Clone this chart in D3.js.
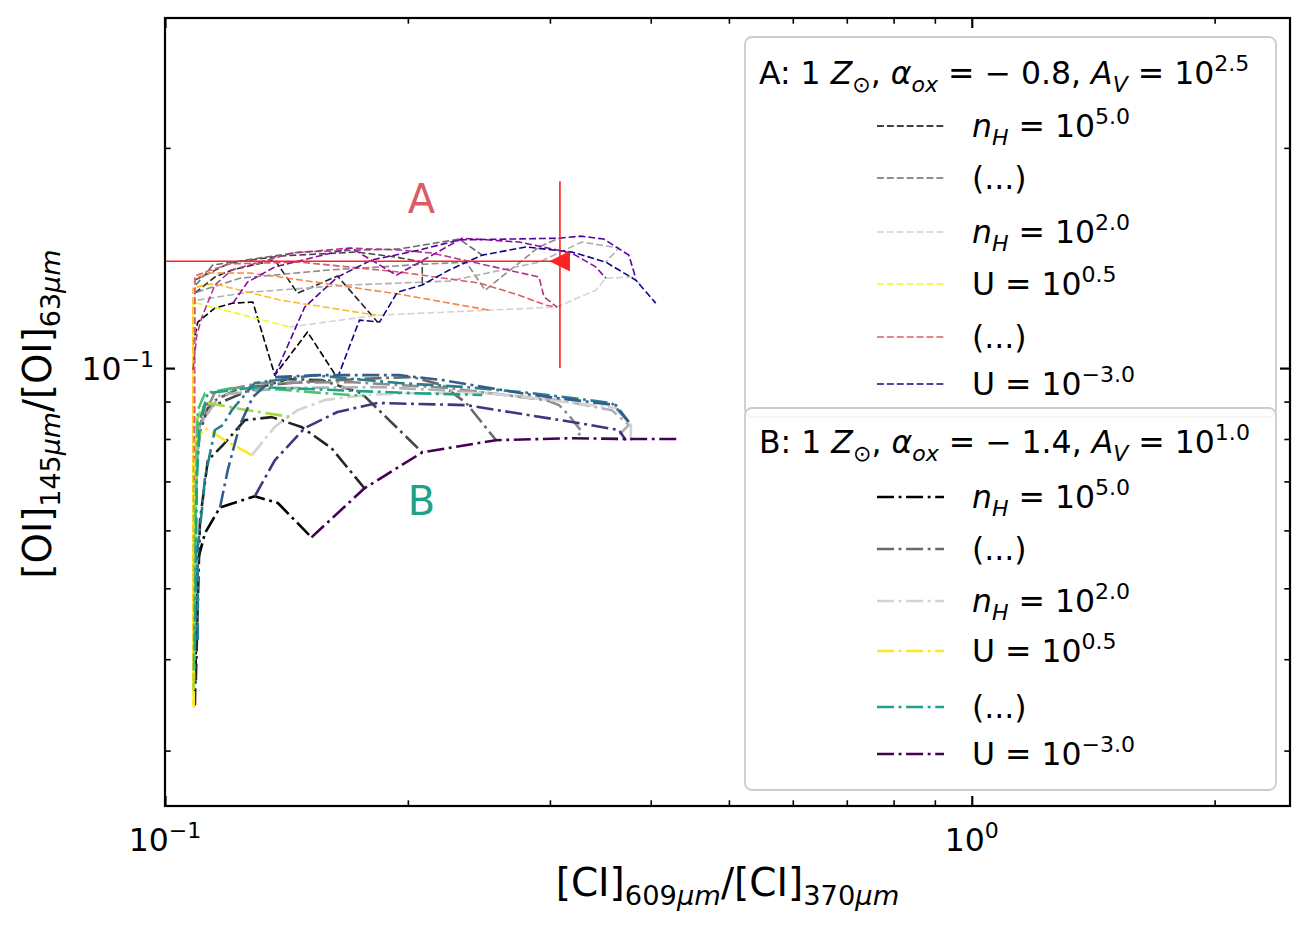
<!DOCTYPE html>
<html><head><meta charset="utf-8">
<script src="https://cdn.jsdelivr.net/npm/d3@7"></script>
<style>
body{margin:0;background:#fff}
svg{display:block}
text{font-family:"DejaVu Sans",sans-serif;white-space:pre}
</style>
</head><body>
<svg id="chart" width="1312" height="930"></svg>
<script>
// ---------------- data ----------------
const xDomain = [0.1, 2.48];
const yDomain = [0.0252, 0.301];
const xMajorTicks = [0.1, 1];
const xMinorTicks = [0.2,0.3,0.4,0.5,0.6,0.7,0.8,0.9,2];
const yMajorTicks = [0.1];
const yMinorTicks = [0.03,0.04,0.05,0.06,0.07,0.08,0.09,0.2];
const xTickLabels = [{v:0.1, base:"10", exp:"−1"}, {v:1, base:"10", exp:"0"}];
const yTickLabels = [{v:0.1, base:"10", exp:"−1"}];

const nHValues = ["5.0","4.5","4.0","3.5","3.0","2.5","2.0"];
const UValues  = ["0.5","0.0","−0.5","−1.0","−1.5","−2.0","−2.5","−3.0"];
const greyColors    = ["#000000","#232323","#464646","#696969","#8c8c8c","#b0b0b0","#d3d3d3"];
const plasmaColors  = ["#f0f921","#febd2a","#f48849","#db5c68","#b83289","#8b0aa5","#5302a3","#0d0887"];
const viridisColors = ["#fde725","#a0da39","#4ac16d","#1fa187","#277f8e","#365c8d","#46327e","#440154"];

// Model A: lines of constant n_H (one per nHValues)
const A_nH_x = [
  [0.1083,0.1098,0.1153,0.1214,0.1285,0.1368,0.1502,0.1636],
  [0.1089,0.1153,0.1210,0.1368,0.1460,0.1636,0.1834],
  [0.1089,0.1203,0.1388,0.1727,0.1936,0.2084,0.2084],
  [0.1092,0.1146,0.1469,0.1952,0.2316,0.2473],
  [0.1095,0.1238,0.1600,0.2127,0.2362,0.2493,0.2908,0.3079],
  [0.1098,0.1274,0.1693,0.2251,0.2908,0.3287,0.3652,0.3519],
  [0.1427,0.1829,0.2522,0.3061,0.3420,0.3519,0.3790,0.3899]
];
const A_nH_y = [
  [0.1075,0.1156,0.1208,0.1227,0.1231,0.0978,0.1120,0.0969],
  [0.1266,0.1332,0.1362,0.1405,0.1266,0.1336,0.1156],
  [0.1319,0.1392,0.1423,0.1441,0.1418,0.1396,0.1299],
  [0.1299,0.1383,0.1441,0.1455,0.1501,0.1427],
  [0.1270,0.1327,0.1362,0.1388,0.1396,0.1278,0.1464,0.1505],
  [0.1239,0.1270,0.1299,0.1315,0.1396,0.1487,0.1459,0.1396],
  [0.1138,0.1181,0.1200,0.1212,0.1278,0.1327,0.1332,0.1299]
];
// Model A: lines of constant U (one per UValues)
const A_U_x = [
  [0.1083,0.1083,0.1427],
  [0.1083,0.1083,0.1121,0.1153,0.1388,0.1829],
  [0.1086,0.1089,0.1137,0.1274,0.1388,0.1952,0.2522],
  [0.1086,0.1089,0.1130,0.1203,0.1469,0.1952,0.2451,0.2747,0.2967,0.3061],
  [0.1083,0.1095,0.1111,0.1153,0.1210,0.1439,0.1693,0.1952,0.2145,0.2908,0.2950,0.3061],
  [0.1214,0.1266,0.1368,0.1702,0.1936,0.2336,0.2747,0.3194,0.3420,0.3519],
  [0.1368,0.1490,0.1636,0.1803,0.2067,0.2316,0.3079,0.3277,0.3499,0.3758,0.3833],
  [0.1636,0.1742,0.1845,0.1941,0.2084,0.2251,0.2473,0.2802,0.3194,0.3519,0.3833,0.4058]
];
const A_U_y = [
  [0.0346,0.1231,0.1138],
  [0.0363,0.1286,0.1299,0.1303,0.1239,0.1181],
  [0.0374,0.1327,0.1349,0.1349,0.1332,0.1262,0.1200],
  [0.0386,0.1336,0.1357,0.1388,0.1396,0.1353,0.1307,0.1258,0.1219,0.1212],
  [0.0994,0.1109,0.1174,0.1299,0.1362,0.1436,0.1459,0.1450,0.1436,0.1332,0.1251,0.1212],
  [0.1227,0.1311,0.1375,0.1459,0.1340,0.1505,0.1487,0.1436,0.1375,0.1327],
  [0.0978,0.1212,0.1332,0.1405,0.1450,0.1497,0.1505,0.1515,0.1501,0.1427,0.1327],
  [0.0969,0.1163,0.1156,0.1270,0.1299,0.1362,0.1427,0.1464,0.1441,0.1396,0.1319,0.1227]
];
// Model B: lines of constant n_H
const B_nH_x = [
  [0.1089,0.1092,0.1095,0.1098,0.1121,0.1170,0.1292,0.1380,0.1519],
  [0.1092,0.1105,0.1130,0.1180,0.1256,0.1356,0.1476,0.1609,0.1767],
  [0.1089,0.1092,0.1105,0.1130,0.1256,0.1419,0.1563,0.1752,0.2084],
  [0.1089,0.1095,0.1121,0.1238,0.1469,0.1845,0.2026,0.2207,0.2362,0.2572],
  [0.1089,0.1098,0.1153,0.1310,0.1693,0.2251,0.2967,0.3079,0.3167,0.3287,0.3231],
  [0.1089,0.1105,0.1170,0.1388,0.1845,0.2451,0.3079,0.3580,0.3758,0.3652,0.3621],
  [0.1281,0.1368,0.1460,0.1576,0.1767,0.2037,0.2522,0.2851,0.3621,0.3780,0.3780,0.3652]
];
const B_nH_y = [
  [0.0346,0.0411,0.0482,0.0546,0.0595,0.0645,0.0668,0.0654,0.0587],
  [0.0374,0.0619,0.0748,0.0785,0.0849,0.0857,0.0831,0.0777,0.0685],
  [0.0452,0.0725,0.0818,0.0882,0.0927,0.0966,0.0963,0.0924,0.0767],
  [0.0546,0.0797,0.0890,0.0939,0.0957,0.0969,0.0972,0.0948,0.0896,0.0797],
  [0.0619,0.0823,0.0927,0.0954,0.0957,0.0939,0.0904,0.0890,0.0862,0.0818,0.0805],
  [0.0660,0.0836,0.0919,0.0939,0.0942,0.0927,0.0904,0.0876,0.0836,0.0810,0.0797],
  [0.0760,0.0831,0.0876,0.0904,0.0919,0.0924,0.0924,0.0910,0.0882,0.0836,0.0797,0.0802]
];
// Model B: lines of constant U
const B_U_x = [
  [0.1086,0.1086,0.1092,0.1121,0.1186,0.1281],
  [0.1086,0.1089,0.1095,0.1111,0.1130,0.1266,0.1436],
  [0.1086,0.1092,0.1098,0.1121,0.1210,0.1368,0.1519,0.1767],
  [0.1089,0.1095,0.1105,0.1130,0.1303,0.2037,0.2473],
  [0.1098,0.1098,0.1111,0.1121,0.1153,0.1180,0.1210,0.1292,0.1532,0.1767,0.1952,0.2362,0.2851,0.3580,0.3758],
  [0.1170,0.1196,0.1238,0.1285,0.1368,0.1554,0.1952,0.2207,0.2851,0.3621,0.3758],
  [0.1292,0.1368,0.1490,0.1636,0.1834,0.2362,0.3194,0.3652,0.3726],
  [0.1519,0.1767,0.2084,0.2572,0.3194,0.3736,0.4307]
];
const B_U_y = [
  [0.0343,0.0482,0.0797,0.0828,0.0797,0.0760],
  [0.0363,0.0546,0.0849,0.0882,0.0896,0.0876,0.0857],
  [0.0386,0.0660,0.0876,0.0924,0.0939,0.0936,0.0927,0.0916],
  [0.0411,0.0703,0.0849,0.0924,0.0942,0.0924,0.0919],
  [0.0425,0.0569,0.0639,0.0709,0.0823,0.0836,0.0876,0.0954,0.0978,0.0963,0.0954,0.0942,0.0924,0.0896,0.0844],
  [0.0645,0.0725,0.0836,0.0913,0.0972,0.0978,0.0978,0.0963,0.0919,0.0890,0.0844],
  [0.0668,0.0748,0.0828,0.0871,0.0896,0.0890,0.0844,0.0823,0.0797],
  [0.0587,0.0685,0.0767,0.0797,0.0802,0.0800,0.0800]
];

// observed point (upper limit in x)
const obsX = 0.3087, obsY = 0.140;
const obsYRange = [0.100, 0.180];
const obsXLow = 0.05;

const regionLabels = [
  {text:"A", x:0.2, y:0.163, color:plasmaColors[3]},
  {text:"B", x:0.2, y:0.0629, color:viridisColors[3]}
];

// ---------------- drawing ----------------
const W = 1312, H = 930;
const P = {left:165, right:1290, top:18, bottom:806};
const svg = d3.select("#chart");
const x = d3.scaleLog().domain(xDomain).range([P.left, P.right]);
const y = d3.scaleLog().domain(yDomain).range([P.bottom, P.top]);

svg.append("rect").attr("width",W).attr("height",H).attr("fill","#fff");
svg.append("defs").append("clipPath").attr("id","clip").append("rect")
  .attr("x",P.left).attr("y",P.top).attr("width",P.right-P.left).attr("height",P.bottom-P.top);

const plot = svg.append("g").attr("clip-path","url(#clip)");
const line = d3.line().x(d=>x(d[0])).y(d=>y(d[1]));

const styleA = {w:1.6, dash:"6.9,3"};
const styleB = {w:2.6, dash:"17,4.6,2.9,4.6"};

function drawFamily(xs, ys, colors, st){
  xs.forEach((xa,i)=>{
    const pts = xa.map((v,j)=>[v, ys[i][j]]);
    plot.append("path").attr("d", line(pts)).attr("fill","none")
      .attr("stroke", colors[i]).attr("stroke-width", st.w)
      .attr("stroke-dasharray", st.dash).attr("stroke-linejoin","round");
  });
}
drawFamily(A_nH_x, A_nH_y, greyColors, styleA);
drawFamily(A_U_x, A_U_y, plasmaColors, styleA);
drawFamily(B_nH_x, B_nH_y, greyColors, styleB);
drawFamily(B_U_x, B_U_y, viridisColors, styleB);

// error bars + marker
const red = "#ff2020";
plot.append("line").attr("x1",x(obsXLow)).attr("x2",x(obsX)).attr("y1",y(obsY)).attr("y2",y(obsY))
  .attr("stroke",red).attr("stroke-width",1.6);
plot.append("line").attr("x1",x(obsX)).attr("x2",x(obsX)).attr("y1",y(obsYRange[0])).attr("y2",y(obsYRange[1]))
  .attr("stroke",red).attr("stroke-width",1.6);
const r = 9.5;
plot.append("path").attr("transform",`translate(${x(obsX)},${y(obsY)})`)
  .attr("d",`M${-r},0L${r},${-r}L${r},${r}Z`).attr("fill",red).attr("stroke",red).attr("stroke-width",1);

// math text helper
function mathText(parent, px, py, size, parts, opt={}){
  const t = parent.append("text").attr("x",px).attr("y",py).attr("font-size",size)
    .attr("text-anchor", opt.anchor||"start").attr("fill", opt.fill||"#000");
  if (opt.rotate) t.attr("transform",`rotate(${opt.rotate},${px},${py})`);
  let cur = 0;
  parts.forEach(p=>{
    if (typeof p === "string") p = {t:p};
    const shift = p.sub ? 0.24*size : (p.sup ? -0.42*size : 0);
    const ts = t.append("tspan").text(p.t).attr("dy", shift-cur);
    cur = shift;
    if (p.sub || p.sup) ts.attr("font-size", size*0.7);
    if (p.i) ts.attr("font-style","italic");
  });
  return t;
}

// region labels
regionLabels.forEach(l=>{
  svg.append("text").attr("x",x(l.x)).attr("y",y(l.y)).attr("font-size",40)
    .attr("fill",l.color).text(l.text);
});

// axes ticks (inward, all four sides)
function tickAxis(axisFn, scale, vals, len, w, tr){
  const g = svg.append("g").attr("transform",tr)
    .call(axisFn(scale).tickValues(vals).tickSize(-len).tickFormat(""));
  g.select(".domain").remove();
  g.selectAll("line").attr("stroke","#000").attr("stroke-width",w);
}
[[xMajorTicks,10,2.2],[xMinorTicks,5.7,1.6]].forEach(([v,l,w])=>{
  tickAxis(d3.axisBottom, x, v, l, w, `translate(0,${P.bottom})`);
  tickAxis(d3.axisTop, x, v, l, w, `translate(0,${P.top})`);
});
[[yMajorTicks,10,2.2],[yMinorTicks,5.7,1.6]].forEach(([v,l,w])=>{
  tickAxis(d3.axisLeft, y, v, l, w, `translate(${P.left},0)`);
  tickAxis(d3.axisRight, y, v, l, w, `translate(${P.right},0)`);
});
svg.append("rect").attr("x",P.left).attr("y",P.top).attr("width",P.right-P.left).attr("height",P.bottom-P.top)
  .attr("fill","none").attr("stroke","#000").attr("stroke-width",2.2);

// tick labels
const tickFont = 31.5;
xTickLabels.forEach(t=>{
  mathText(svg, x(t.v), 851, tickFont, [t.base,{t:t.exp,sup:1}], {anchor:"middle"});
});
yTickLabels.forEach(t=>{
  mathText(svg, 154, y(t.v)+12, tickFont, [t.base,{t:t.exp,sup:1}], {anchor:"end"});
});

// axis labels
mathText(svg, (P.left+P.right)/2, 896, 39,
  ["[CI]",{t:"609",sub:1},{t:"μm",sub:1,i:1},"/[CI]",{t:"370",sub:1},{t:"μm",sub:1,i:1}], {anchor:"middle"});
mathText(svg, 51, (P.top+P.bottom)/2 + 2, 38.5,
  ["[OI]",{t:"145",sub:1},{t:"μm",sub:1,i:1},"/[OI]",{t:"63",sub:1},{t:"μm",sub:1,i:1}], {anchor:"middle", rotate:-90});

// legends
const legFont = 31.5;
function legend(box, titleParts, titleY, entries, st){
  svg.append("rect").attr("x",box.x).attr("y",box.y).attr("width",box.w).attr("height",box.h)
    .attr("rx",7).attr("fill","#fff").attr("fill-opacity",0.8).attr("stroke","#cccccc").attr("stroke-width",1.8);
  mathText(svg, 759, titleY, legFont, titleParts);
  entries.forEach(e=>{
    svg.append("line").attr("x1",877).attr("x2",944).attr("y1",e.y).attr("y2",e.y)
      .attr("stroke",e.color).attr("stroke-width",st.w).attr("stroke-dasharray",st.dash);
    mathText(svg, 972, e.y+11, legFont, e.parts);
  });
}
const nHParts = v => [{t:"n",i:1},{t:"H",i:1,sub:1}," = 10",{t:v,sup:1}];
const UParts = v => ["U = 10",{t:v,sup:1}];
const dots = ["(...)"];
const midN = 3, midU = 3;

legend({x:745,y:37,w:531,h:380},
  ["A: 1 ",{t:"Z",i:1},{t:"⊙",sub:1},", ",{t:"α",i:1},{t:"ox",i:1,sub:1}," = − 0.8, ",{t:"A",i:1},{t:"V",i:1,sub:1}," = 10",{t:"2.5",sup:1}],
  84,
  [
    {y:126, color:greyColors[0], parts:nHParts(nHValues[0])},
    {y:178, color:greyColors[midN], parts:dots},
    {y:232, color:greyColors[6], parts:nHParts(nHValues[6])},
    {y:284, color:plasmaColors[0], parts:UParts(UValues[0])},
    {y:337, color:plasmaColors[midU], parts:dots},
    {y:384, color:plasmaColors[7], parts:UParts(UValues[7])}
  ], styleA);

legend({x:745,y:408,w:531,h:382},
  ["B: 1 ",{t:"Z",i:1},{t:"⊙",sub:1},", ",{t:"α",i:1},{t:"ox",i:1,sub:1}," = − 1.4, ",{t:"A",i:1},{t:"V",i:1,sub:1}," = 10",{t:"1.0",sup:1}],
  453,
  [
    {y:497, color:greyColors[0], parts:nHParts(nHValues[0])},
    {y:549, color:greyColors[midN], parts:dots},
    {y:601, color:greyColors[6], parts:nHParts(nHValues[6])},
    {y:651, color:viridisColors[0], parts:UParts(UValues[0])},
    {y:707, color:viridisColors[midU], parts:dots},
    {y:754, color:viridisColors[7], parts:UParts(UValues[7])}
  ], styleB);
</script>
</body></html>
